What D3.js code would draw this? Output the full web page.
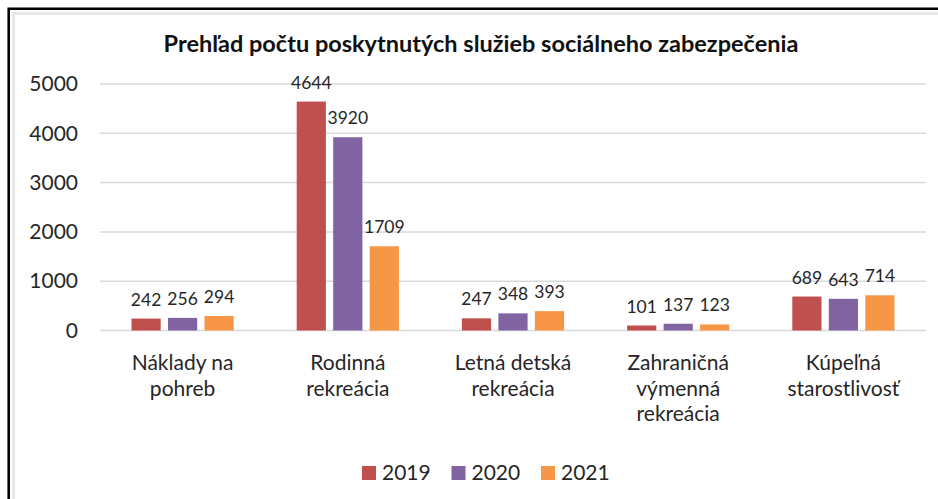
<!DOCTYPE html>
<html>
<head>
<meta charset="utf-8">
<script src="https://cdn.jsdelivr.net/npm/d3@7"></script>
<style>
  body { margin: 0; background: #fff; }
  svg { display: block; font-family: Lato, 'Open Sans', sans-serif; }
</style>
</head>
<body>
<div id="chart"></div>
<script>
const title = 'Prehľad počtu poskytnutých služieb sociálneho zabezpečenia'
const categories = [
  ['Náklady na', 'pohreb'],
  ['Rodinná', 'rekreácia'],
  ['Letná detská', 'rekreácia'],
  ['Zahraničná', 'výmenná', 'rekreácia'],
  ['Kúpeľná', 'starostlivosť']
]
const years = ['2019', '2020', '2021']
const values2019 = [242, 4644, 247, 101, 689]
const values2020 = [256, 3920, 348, 137, 643]
const values2021 = [294, 1709, 393, 123, 714]
const yTicks = [0, 1000, 2000, 3000, 4000, 5000]
const colors = ['#c0504d', '#8064a2', '#f79646']

const width = 938
const height = 499
const series = [values2019, values2020, values2021]

const svg = d3
  .select('#chart')
  .append('svg')
  .attr('width', width)
  .attr('height', height)

// cropped frame of the screenshot
svg.append('path')
  .attr('d', `M13.5,${height} V13.5 H${width}`)
  .attr('fill', 'none')
  .attr('stroke', '#e6e6e6')
  .attr('stroke-width', 3)
svg.append('path')
  .attr('d', `M8.7,${height} V8.7 H${width}`)
  .attr('fill', 'none')
  .attr('stroke', '#000')
  .attr('stroke-width', 2.6)

const x0 = d3.scaleBand()
  .domain(d3.range(categories.length))
  .range([100, 926])

const x1 = d3.scaleBand()
  .domain(years)
  .range([31.5, x0.bandwidth() - 31.5])
  .paddingInner(0.2)

const y = d3.scaleLinear()
  .domain([0, 5000])
  .range([330.5, 84])

// gridlines
svg.append('g')
  .selectAll('line')
  .data(yTicks)
  .enter()
  .append('line')
  .attr('x1', 100)
  .attr('x2', 926)
  .attr('y1', d => y(d))
  .attr('y2', d => y(d))
  .attr('stroke', '#d9d9d9')
  .attr('stroke-width', 1.5)

const yAxis = svg.append('g')
  .attr('transform', 'translate(78,0)')
  .call(d3.axisLeft(y).tickValues(yTicks).tickFormat(d3.format('d')).tickSize(0).tickPadding(0))
yAxis.select('.domain').remove()
yAxis.selectAll('text')
  .attr('font-family', 'Lato, sans-serif')
  .attr('font-size', 21)
  .attr('fill', '#262626')

svg
  .append('text')
  .attr('x', 481)
  .attr('y', 52)
  .attr('text-anchor', 'middle')
  .attr('font-weight', 'bold')
  .attr('font-size', 23.5)
  .attr('fill', '#111')
  .text(title)

const groups = svg.selectAll('g.cat')
  .data(categories)
  .enter()
  .append('g')
  .attr('class', 'cat')
  .attr('transform', (d, i) => `translate(${x0(i)},0)`)

groups.selectAll('rect')
  .data((d, i) => series.map((s, k) => ({ year: years[k], v: s[i], k })))
  .enter()
  .append('rect')
  .attr('x', d => x1(d.year))
  .attr('y', d => y(d.v))
  .attr('width', x1.bandwidth())
  .attr('height', d => y(0) - y(d.v))
  .attr('fill', d => colors[d.k])

groups.selectAll('text.val')
  .data((d, i) => series.map((s, k) => ({ year: years[k], v: s[i], k })))
  .enter()
  .append('text')
  .attr('class', 'val')
  .attr('x', d => x1(d.year) + x1.bandwidth() / 2)
  .attr('y', d => y(d.v) - 13)
  .attr('text-anchor', 'middle')
  .attr('font-size', 17.5)
  .attr('fill', '#262626')
  .text(d => d.v)

groups.append('text')
  .attr('text-anchor', 'middle')
  .attr('font-size', 21)
  .attr('fill', '#262626')
  .selectAll('tspan')
  .data(d => d)
  .enter()
  .append('tspan')
  .attr('x', x0.bandwidth() / 2)
  .attr('y', (d, j) => 370 + j * 25.5)
  .text(d => d)

const legend = svg.selectAll('g.leg')
  .data(years)
  .enter()
  .append('g')
  .attr('class', 'leg')
  .attr('transform', (d, i) => `translate(${362 + i * 89.5},0)`)

legend.append('rect')
  .attr('x', 0)
  .attr('y', 466)
  .attr('width', 14)
  .attr('height', 14)
  .attr('fill', (d, i) => colors[i])

legend.append('text')
  .attr('x', 20)
  .attr('y', 480)
  .attr('font-size', 21)
  .attr('fill', '#262626')
  .text(d => d)
</script>
</body>
</html>
